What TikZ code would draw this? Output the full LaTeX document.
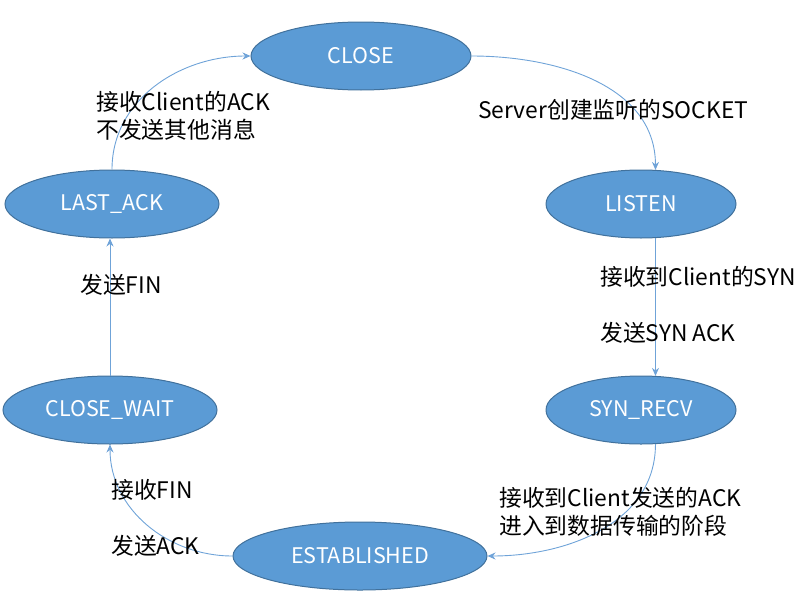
\documentclass[tikz,border=0pt]{standalone}
\usepackage{fontspec}
\newfontfamily\cjk{Noto Sans CJK SC}
\usetikzlibrary{shapes.geometric,arrows.meta}
\definecolor{stfill}{HTML}{5B9BD5}
\definecolor{stline}{HTML}{41719C}
\definecolor{edge}{HTML}{6FA3D8}
\begin{document}
\begin{tikzpicture}[x=1pt,y=-1pt,
  state/.style={ellipse,draw=stline,line width=1pt,fill=stfill,text=white,
    inner sep=0pt,minimum height=68pt,font=\cjk\fontsize{21.5}{25}\selectfont},
  lbl/.style={anchor=west,inner sep=0pt,align=left,font=\cjk\fontsize{22.8}{28.5}\selectfont},
  conn/.style={draw=edge,line width=0.9pt,-{Stealth[length=8pt,width=7pt]}}]
\useasboundingbox (0,0) rectangle (797,605);
\node[state,minimum width=220pt] (close) at (361,56) {CLOSE};
\node[state,minimum width=190pt] (listen) at (641,204) {LISTEN};
\node[state,minimum width=190pt] (synrecv) at (641,410) {SYN\_RECV};
\node[state,minimum width=254pt] (est) at (360,556) {ESTABLISHED};
\node[state,minimum width=214pt] (cwait) at (110,410) {CLOSE\_WAIT};
\node[state,minimum width=214pt] (lack) at (112,204) {LAST\_ACK};
\draw[conn] (close.east) to[out=0,in=90] (listen.67);
\draw[conn] (listen.-67) -- (synrecv.67);
\draw[conn] (synrecv.-67) to[out=-90,in=0] (est.east);
\draw[conn] (est.west) to[out=180,in=-90] (cwait.south);
\draw[conn] (cwait.north) -- (cwait.north |- lack.south);
\draw[conn] (lack.north) to[out=90,in=180] (close.west);
\node[lbl] (l1) at (478,110) {Server创建监听的SOCKET};
\node[lbl] (l2) at (600,277) {接收到Client的SYN};
\node[lbl] (l3) at (600,333) {发送SYN ACK};
\node[lbl] (l4) at (499,512) {接收到Client发送的ACK\\进入到数据传输的阶段};
\node[lbl] (l5) at (111,490) {接收FIN};
\node[lbl] (l6) at (111,546) {发送ACK};
\node[lbl] (l7) at (80,285) {发送FIN};
\node[lbl] (l8) at (96,116) {接收Client的ACK\\不发送其他消息};
\end{tikzpicture}
\end{document}
